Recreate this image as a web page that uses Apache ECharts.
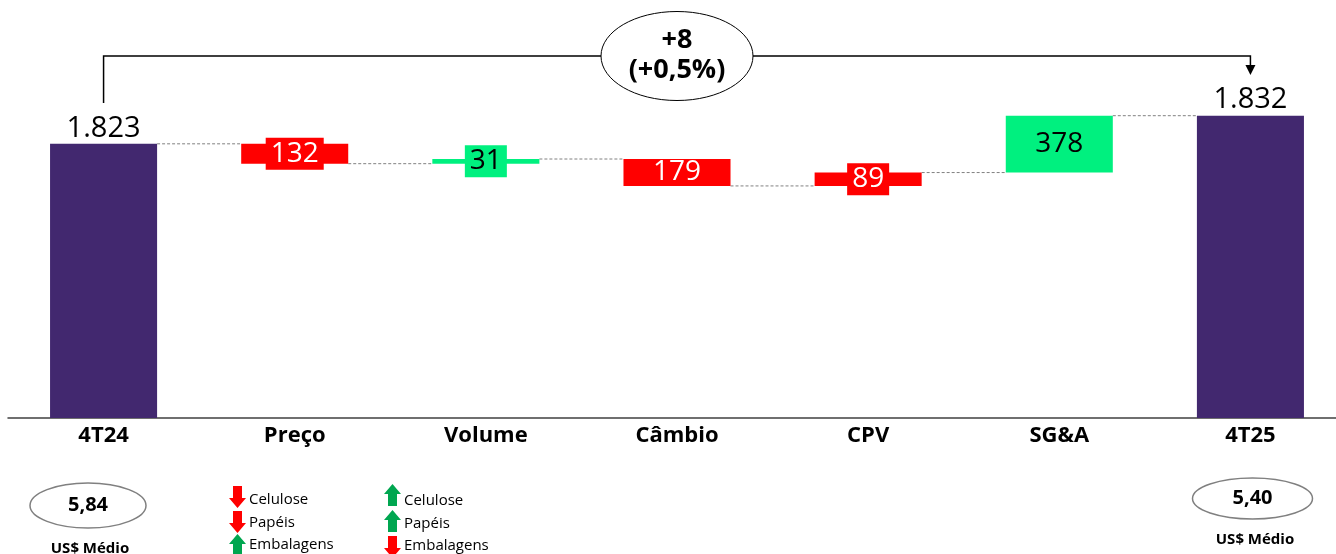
<!DOCTYPE html>
<html><head><meta charset="utf-8">
<script src="https://cdn.jsdelivr.net/npm/echarts@6/dist/echarts.min.js"></script>
<style>html,body{margin:0;padding:0;background:#fff;overflow:hidden}#c{width:1346px;height:554px}</style>
</head><body><div id="c"></div>
<script>
// ---- data (as drawn in the reference) ----
const categories = ['4T24', 'Preço', 'Volume', 'Câmbio', 'CPV', 'SG&A', '4T25'];
const barStart = [0, 1823, 1691, 1722, 1543, 1632, 0];
const barEnd = [1823, 1691, 1722, 1543, 1632, 2010, 2010];
const barLabels = ['1.823', '132', '31', '179', '89', '378', '1.832'];
const barKind = ['total', 'neg', 'pos', 'neg', 'neg', 'pos', 'total'];
const totalChangeLines = ['+8', '(+0,5%)'];
const fxLabels = ['5,84', '5,40'];
const fxCaption = 'US$ Médio';
const driverNames = ['Celulose', 'Papéis', 'Embalagens'];
const precoDirs = ['down', 'down', 'up'];
const volumeDirs = ['up', 'up', 'down'];

const COLORS = { total: '#42286F', neg: '#FF0000', pos: '#00F07F' };
const LABEL_FILL = { neg: '#FFFFFF', pos: '#000000' };
const FONT = '"Open Sans", "DejaVu Sans", sans-serif';

const chart = echarts.init(document.getElementById('c'), null, { renderer: 'canvas' });

function renderBar(params, api) {
  const i = api.value(0);
  const s = api.value(1), e = api.value(2);
  const p1 = api.coord([i, s]);
  const p2 = api.coord([i, e]);
  const w = api.size([1, 0])[0] * 0.56;
  const top = Math.min(p1[1], p2[1]);
  const bot = Math.max(p1[1], p2[1]);
  const kind = barKind[i];
  const color = COLORS[kind];
  const children = [];
  if (i < barEnd.length - 1) {
    const q = api.coord([i + 1, barEnd[i]]);
    children.push({
      type: 'line',
      shape: { x1: p1[0] + w / 2, y1: p2[1], x2: q[0] - w / 2, y2: q[1] },
      style: { stroke: '#808080', lineWidth: 1, lineDash: [3, 2] }
    });
  }
  children.push({ type: 'rect', shape: { x: p1[0] - w / 2, y: top, width: w, height: bot - top }, style: { fill: color } });
  if (kind === 'total') {
    children.push({ type: 'text', style: { text: barLabels[i], x: p1[0], y: top - 1, align: 'center', verticalAlign: 'bottom', font: '29px ' + FONT, fill: '#000' } });
  } else {
    const needBox = (bot - top) < 25;
    children.push({ type: 'text', style: { text: barLabels[i], x: p1[0], y: (top + bot) / 2, align: 'center', verticalAlign: 'middle', font: '28px ' + FONT, fill: LABEL_FILL[kind], backgroundColor: needBox ? color : 'transparent', padding: [0, 5], lineHeight: 32 } });
  }
  return { type: 'group', children };
}

chart.setOption({
  animation: false,
  grid: { left: 8, right: 0, top: 42, bottom: 136 },
  xAxis: {
    type: 'category', data: categories,
    axisLine: { lineStyle: { color: '#404040', width: 1.5 } },
    axisTick: { show: false },
    axisLabel: { color: '#000', fontWeight: 'bold', fontSize: 22, fontFamily: FONT, margin: 7 }
  },
  yAxis: { type: 'value', min: 0, max: 2500, show: false, splitLine: { show: false } },
  series: [{
    type: 'custom',
    renderItem: renderBar,
    clip: false,
    encode: { x: 0, y: [1, 2] },
    data: categories.map((c, i) => [i, barStart[i], barEnd[i]])
  }]
});

// ---- annotations ----
const x0 = chart.convertToPixel({ xAxisIndex: 0 }, 0);
const x6 = chart.convertToPixel({ xAxisIndex: 0 }, categories.length - 1);
const midX = (x0 + x6) / 2;
const bracketY = 56;

function arrow(cx, top, dir, h) {
  const hw = 8.5, sw = 4.5, head = 10;
  let pts;
  if (dir === 'down') {
    pts = [[cx - sw, top], [cx + sw, top], [cx + sw, top + h - head], [cx + hw, top + h - head], [cx, top + h], [cx - hw, top + h - head], [cx - sw, top + h - head]];
  } else {
    pts = [[cx, top], [cx + hw, top + head], [cx + sw, top + head], [cx + sw, top + h], [cx - sw, top + h], [cx - sw, top + head], [cx - hw, top + head]];
  }
  return { type: 'polygon', shape: { points: pts }, style: { fill: dir === 'down' ? '#FF0000' : '#00A650' } };
}

const g = [];
g.push({ type: 'polyline', shape: { points: [[x0, 103], [x0, bracketY], [x6, bracketY], [x6, 66]] }, style: { stroke: '#000', lineWidth: 1.5, fill: null } });
g.push({ type: 'polygon', shape: { points: [[x6 - 5, 65], [x6 + 5, 65], [x6, 75]] }, style: { fill: '#000' } });
g.push({ type: 'ellipse', shape: { cx: midX, cy: 56, rx: 76, ry: 44.5 }, style: { fill: '#fff', stroke: '#000', lineWidth: 1 } });
g.push({ type: 'text', style: { text: totalChangeLines[0], x: midX, y: 40, align: 'center', verticalAlign: 'middle', font: 'bold 27px ' + FONT, fill: '#000' } });
g.push({ type: 'text', style: { text: totalChangeLines[1], x: midX, y: 70, align: 'center', verticalAlign: 'middle', font: 'bold 27px ' + FONT, fill: '#000' } });

// FX ellipses
g.push({ type: 'ellipse', shape: { cx: 88, cy: 505.5, rx: 58, ry: 22.5 }, style: { fill: '#fff', stroke: '#808080', lineWidth: 1.5 } });
g.push({ type: 'text', style: { text: fxLabels[0], x: 88, y: 505, align: 'center', verticalAlign: 'middle', font: 'bold 20px ' + FONT, fill: '#000' } });
g.push({ type: 'text', style: { text: fxCaption, x: 90, y: 549, align: 'center', verticalAlign: 'middle', font: 'bold 15px ' + FONT, fill: '#000' } });
g.push({ type: 'ellipse', shape: { cx: 1252.5, cy: 498.5, rx: 60, ry: 20.5 }, style: { fill: '#fff', stroke: '#808080', lineWidth: 1.5 } });
g.push({ type: 'text', style: { text: fxLabels[1], x: 1252.5, y: 498, align: 'center', verticalAlign: 'middle', font: 'bold 20px ' + FONT, fill: '#000' } });
g.push({ type: 'text', style: { text: fxCaption, x: 1255, y: 540, align: 'center', verticalAlign: 'middle', font: 'bold 15px ' + FONT, fill: '#000' } });

// driver arrows
const colA = { cx: 237.5, tx: 249, tops: [486, 511, 534], ys: [500, 523, 545] };
const colB = { cx: 392.5, tx: 404, tops: [484, 510, 536], ys: [501, 524, 546] };
[[colA, precoDirs], [colB, volumeDirs]].forEach(([col, dirs]) => {
  dirs.forEach((d, k) => {
    g.push(arrow(col.cx, col.tops[k], d, 22));
    g.push({ type: 'text', style: { text: driverNames[k], x: col.tx, y: col.ys[k], align: 'left', verticalAlign: 'middle', font: '15px ' + FONT, fill: '#000' } });
  });
});

chart.setOption({ graphic: g });
</script>
</body></html>
